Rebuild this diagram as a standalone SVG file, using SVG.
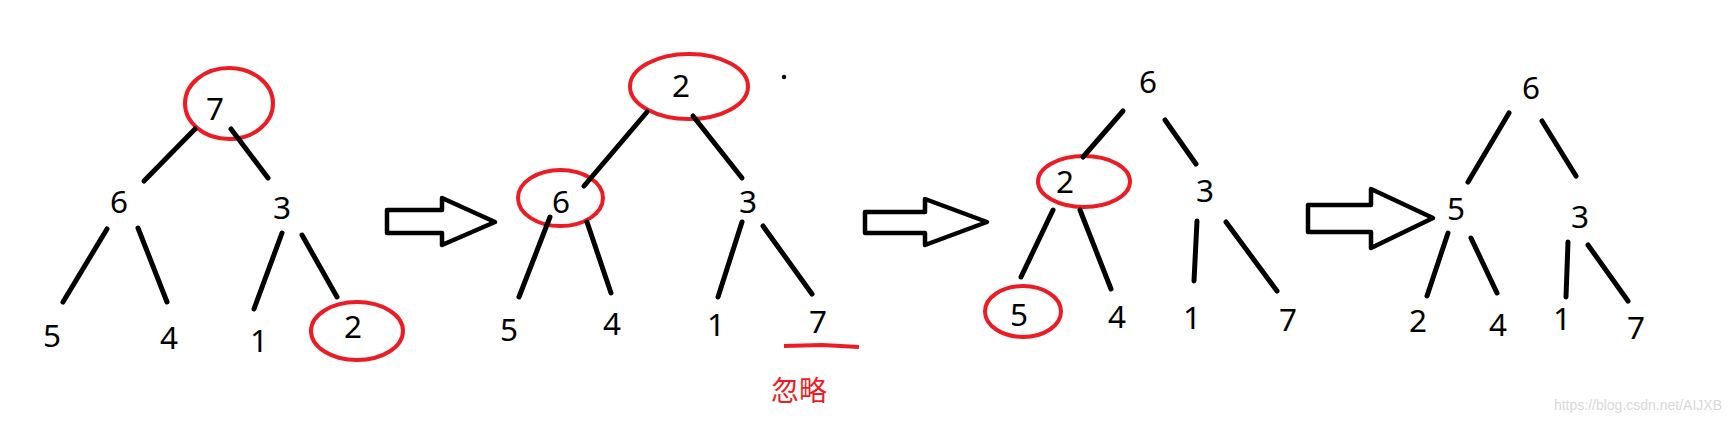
<svg xmlns="http://www.w3.org/2000/svg" width="1732" height="424" viewBox="0 0 1732 424">
<style>
.n{font-family:"Noto Sans","Open Sans",sans-serif;font-size:31.5px;fill:#000;text-anchor:middle}
.hl{fill:none;stroke:#ec1c24;stroke-width:4}
.e line{stroke:#000;stroke-width:5;stroke-linecap:round}
.arr{fill:#fff;stroke:#000;stroke-width:4.5;stroke-linejoin:round}
.note{font-family:"Noto Sans CJK SC","Noto Sans",sans-serif;font-size:28px;fill:#ec1c24;text-anchor:middle}
.wm{font-family:"Liberation Sans",Arial,sans-serif;font-size:14px;fill:#d8d8d8;text-anchor:end}
</style>
<rect width="1732" height="424" fill="#fff"/>

<!-- Tree 1 -->
<g id="t1-n7"><ellipse class="hl" cx="229" cy="103.5" rx="44" ry="35.5"/><text class="n" x="215" y="120">7</text></g>
<g id="t1-n6"><text class="n" x="119" y="213">6</text></g>
<g id="t1-n3"><text class="n" x="282" y="219">3</text></g>
<g id="t1-n5"><text class="n" x="52" y="347">5</text></g>
<g id="t1-n4"><text class="n" x="169" y="349">4</text></g>
<g id="t1-n1"><text class="n" x="259" y="352">1</text></g>
<g id="t1-n2"><ellipse class="hl" cx="357" cy="331" rx="46" ry="29"/><text class="n" x="353" y="338">2</text></g>

<!-- Tree 2 -->
<g id="t2-n2"><ellipse class="hl" cx="689" cy="86.5" rx="59" ry="32.5"/><text class="n" x="681" y="97">2</text></g>
<g id="t2-n6"><ellipse class="hl" cx="560.5" cy="198" rx="42.5" ry="28"/><text class="n" x="561" y="213">6</text></g>
<g id="t2-n3"><text class="n" x="748" y="213">3</text></g>
<g id="t2-n5"><text class="n" x="509" y="341">5</text></g>
<g id="t2-n4"><text class="n" x="612" y="335">4</text></g>
<g id="t2-n1"><text class="n" x="716" y="336">1</text></g>
<g id="t2-n7"><text class="n" x="818" y="333">7</text><polyline class="hl" points="784,346 822,345 859,347"/></g>
<g id="t2-note"><text class="note" x="799" y="401">忽略</text></g>
<circle cx="784" cy="77" r="2.2" fill="#000"/>

<!-- Tree 3 -->
<g id="t3-n6"><text class="n" x="1148" y="93">6</text></g>
<g id="t3-n2"><ellipse class="hl" cx="1084" cy="181.5" rx="46" ry="25.5"/><text class="n" x="1065" y="193">2</text></g>
<g id="t3-n3"><text class="n" x="1205" y="202">3</text></g>
<g id="t3-n5"><ellipse class="hl" cx="1023" cy="311.5" rx="38" ry="25.5"/><text class="n" x="1019" y="326">5</text></g>
<g id="t3-n4"><text class="n" x="1117" y="328">4</text></g>
<g id="t3-n1"><text class="n" x="1192" y="329">1</text></g>
<g id="t3-n7"><text class="n" x="1288" y="331">7</text></g>

<!-- Tree 4 -->
<g id="t4-n6"><text class="n" x="1531" y="99">6</text></g>
<g id="t4-n5"><text class="n" x="1456" y="220">5</text></g>
<g id="t4-n3"><text class="n" x="1580" y="228">3</text></g>
<g id="t4-n2"><text class="n" x="1418" y="332">2</text></g>
<g id="t4-n4"><text class="n" x="1498" y="336">4</text></g>
<g id="t4-n1"><text class="n" x="1562" y="330">1</text></g>
<g id="t4-n7"><text class="n" x="1636" y="339">7</text></g>

<!-- Connectors -->
<g id="connectors" class="e">
<line x1="195" y1="129" x2="144" y2="181"/>
<line x1="231" y1="129" x2="268" y2="178"/>
<line x1="107" y1="229" x2="63" y2="302"/>
<line x1="138" y1="228" x2="167" y2="302"/>
<line x1="282" y1="233" x2="254" y2="309"/>
<line x1="302" y1="235" x2="337" y2="297"/>

<line x1="647" y1="112" x2="584" y2="186"/>
<line x1="693" y1="116" x2="742" y2="178"/>
<line x1="550" y1="217" x2="519" y2="297"/>
<line x1="587" y1="222" x2="611" y2="293"/>
<line x1="742" y1="222" x2="718" y2="297"/>
<line x1="763" y1="226" x2="812" y2="294"/>

<line x1="1123" y1="111" x2="1083" y2="157"/>
<line x1="1165" y1="120" x2="1196" y2="164"/>
<line x1="1053" y1="210" x2="1021" y2="277"/>
<line x1="1080" y1="210" x2="1111" y2="289"/>
<line x1="1197" y1="221" x2="1194" y2="281"/>
<line x1="1226" y1="222" x2="1277" y2="291"/>

<line x1="1509" y1="113" x2="1468" y2="182"/>
<line x1="1542" y1="121" x2="1576" y2="176"/>
<line x1="1448" y1="233" x2="1427" y2="296"/>
<line x1="1471" y1="238" x2="1497" y2="293"/>
<line x1="1568" y1="242" x2="1566" y2="297"/>
<line x1="1588" y1="245" x2="1628" y2="301"/>
</g>

<!-- Step arrows -->
<g id="step-arrows">
<polygon class="arr" points="387,210 442,210 442,198 495,222 442,245 442,233 387,233"/>
<polygon class="arr" points="865,212 925,212 925,199 987,222 925,245 925,233 865,233"/>
<polygon class="arr" points="1308,205 1371,205 1371,189 1433,218 1371,248 1371,232 1308,232"/>
</g>

<text class="wm" x="1722" y="410">https://blog.csdn.net/AIJXB</text>
</svg>
